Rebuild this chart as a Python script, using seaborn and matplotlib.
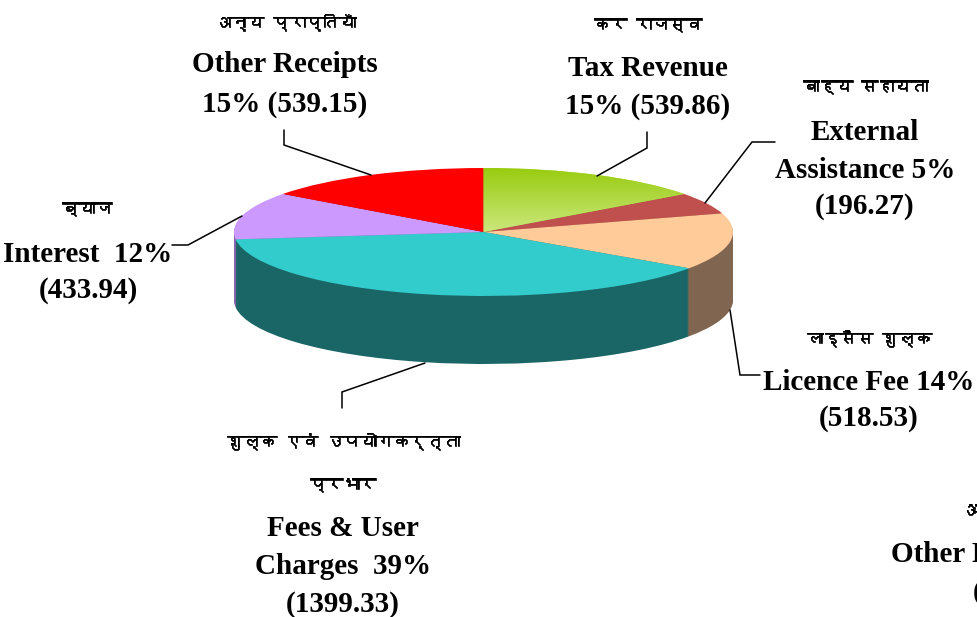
import matplotlib
matplotlib.use('Agg')
import matplotlib.pyplot as plt
import matplotlib.font_manager as fm
import matplotlib.patheffects as pe
from matplotlib.colors import LinearSegmentedColormap
from matplotlib.ft2font import FT2Font
import numpy as np
import seaborn as sns

# Data
categories = ['Tax Revenue', 'External Assistance', 'Licence Fee',
              'Fees & User Charges', 'Interest', 'Other Receipts']
values = [539.86, 196.27, 518.53, 1399.33, 433.94, 539.15]
top_colors = ['#B5DB50', '#C0504D', '#FFCC99', '#33CCCC', '#CC99FF', '#FF0000']
side_colors = ['#6E8A20', '#7F3330', '#806650', '#1A6666', '#8A66B0', '#A00000']

W, H = 978, 617
sns.set_theme(style='white')
plt.rcParams['font.family'] = ['Liberation Serif', 'DejaVu Serif']


# look for any installed font that can draw Devanagari
def find_hindi_font():
    for f in fm.fontManager.ttflist:
        try:
            if 0x0905 in FT2Font(f.fname).get_charmap():
                return f.name
        except Exception:
            pass
    return None


hindi_font = find_hindi_font()
hindi_family = [hindi_font, 'DejaVu Sans'] if hindi_font else ['Noto Sans', 'DejaVu Sans']
# the font is thin here, thicken it a little
hindi_stroke = [pe.withStroke(linewidth=0.5, foreground='black')]

fig = plt.figure(figsize=(W / 100, H / 100), dpi=100)

# pie area, ellipse top 168..296 px, side depth 68 px
left, right, top, bottom = 234, 733, 168, 364
ax = fig.add_axes([left / W, 1 - bottom / H, (right - left) / W, (bottom - top) / H])
rx, ry = (right - left) / 2, 64
depth = (bottom - top - 2 * ry) / ry

# side of the pie, stacked copies going downwards
steps = 68
for k in range(steps, 0, -1):
    ax.pie(values, colors=sns.color_palette(side_colors), startangle=90, counterclock=False,
           center=(0, -depth * k / steps), frame=False, wedgeprops={'linewidth': 0})

wedges, _ = ax.pie(values, colors=sns.color_palette(top_colors), startangle=90, counterclock=False,
                   center=(0, 0), frame=False, wedgeprops={'linewidth': 0})

# green slice has a vertical gradient
cmap = LinearSegmentedColormap.from_list('green_grad', ['#99CC10', '#CBE77C'])
im = ax.imshow(np.linspace(0, 1, 100).reshape(-1, 1), cmap=cmap, extent=(-1, 1, 0, 1),
               origin='upper', aspect='auto', zorder=5)
im.set_clip_path(wedges[0])

ax.set_aspect('auto')
ax.set_xlim(-1, 1)
ax.set_ylim(-1 - depth, 1)
ax.axis('off')

# overlay in pixel coordinates for the labels and leader lines
ov = fig.add_axes([0, 0, 1, 1], facecolor='none')
ov.set_xlim(0, W)
ov.set_ylim(H, 0)
ov.axis('off')

leaders = [
    ([284, 284, 371], [130, 145, 175]),
    ([647, 647, 597], [132, 148, 176]),
    ([775, 752, 705], [142, 142, 203]),
    ([172, 188, 242], [245, 245, 216]),
    ([730, 740, 760], [310, 375, 375]),
    ([342, 342, 425], [408, 392, 363]),
]
for xs, ys in leaders:
    ov.plot(xs, ys, color='black', lw=1.1, solid_joinstyle='miter')

hindi_labels = [
    (285, 22, 'अन्य प्राप्तियाँ'),
    (648, 25, 'कर राजस्व'),
    (865, 87, 'बाह्य सहायता'),
    (869, 338, 'लाइसैंस शुल्क'),
    (87, 209, 'ब्याज'),
    (343, 441, 'शुल्क एवं उपयोगकर्त्ता'),
    (343, 485, 'प्रभार'),
]
for x, y, s in hindi_labels:
    ov.text(x, y, s, ha='center', va='center', fontsize=12, family=hindi_family, color='black',
            path_effects=hindi_stroke)

english_labels = [
    (285, 65, 'Other Receipts'),
    (285, 104, '15% (539.15)'),
    (648, 68, 'Tax Revenue'),
    (648, 107, '15% (539.86)'),
    (865, 132, 'External'),
    (865, 170, 'Assistance 5%'),
    (865, 207, '(196.27)'),
    (869, 382, 'Licence Fee 14%'),
    (869, 419, '(518.53)'),
    (88, 254, 'Interest  12%'),
    (88, 291, '(433.94)'),
    (343, 529, 'Fees & User'),
    (343, 567, 'Charges  39%'),
    (343, 605, '(1399.33)'),
]
for x, y, s in english_labels:
    ov.text(x, y, s, ha='center', va='center', fontsize=21, fontweight='bold', color='black')

# second label running off the right edge, cut the same way in the reference
ov.text(962, 511, 'अन्य', ha='left', va='center', fontsize=12, family=hindi_family, color='black',
        path_effects=hindi_stroke)
ov.text(891, 554, 'Other Receipts', ha='left', va='center', fontsize=21, fontweight='bold', color='black')
ov.text(973, 592, '(539.15)', ha='left', va='center', fontsize=21, fontweight='bold', color='black')

fig.savefig('out.png', dpi=100, facecolor='white')
